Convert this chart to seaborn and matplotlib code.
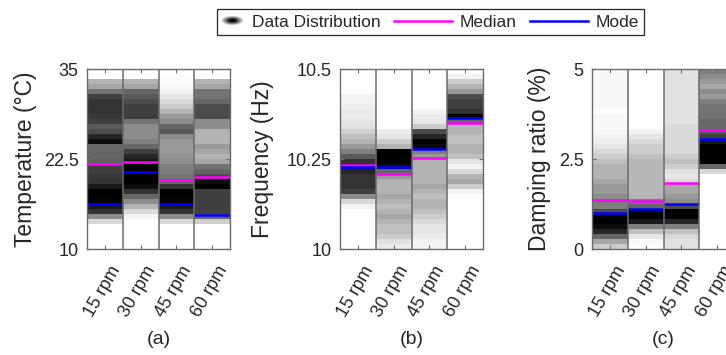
import numpy as np
import pandas as pd
import matplotlib
matplotlib.use('Agg')
import matplotlib.pyplot as plt
import matplotlib.transforms as mtransforms
import seaborn as sns
from matplotlib.patches import Ellipse, Patch
from matplotlib.lines import Line2D
from matplotlib.legend_handler import HandlerBase

#%% Data

speeds = ['15 rpm', '30 rpm', '45 rpm', '60 rpm']

# grey level of each strip, 36 bands from top to bottom (0 = white, 1 = black)
temp_density = [
    [0.0, 0.0, 0.3, 0.35, 0.55, 0.75, 0.8, 0.8, 0.8, 0.78, 0.75, 0.65, 0.7, 0.85, 0.95, 0.6, 0.6, 0.6,
     0.62, 0.75, 0.75, 0.78, 0.8, 0.9, 1.0, 1.0, 1.0, 0.9, 0.8, 0.45, 0.15, 0.0, 0.0, 0.0, 0.0, 0.0],
    [0.0, 0.0, 0.3, 0.35, 0.6, 0.65, 0.7, 0.75, 0.75, 0.75, 0.55, 0.45, 0.45, 0.45, 0.5, 0.6, 0.75, 0.85,
     0.9, 1.0, 1.0, 1.0, 1.0, 0.95, 0.8, 0.6, 0.45, 0.3, 0.15, 0.05, 0.0, 0.0, 0.0, 0.0, 0.0, 0.0],
    [0.0, 0.0, 0.02, 0.03, 0.05, 0.1, 0.15, 0.2, 0.3, 0.4, 0.45, 0.6, 0.65, 0.45, 0.4, 0.4, 0.4, 0.42,
     0.45, 0.5, 0.5, 0.55, 0.6, 0.8, 1.0, 1.0, 1.0, 0.9, 0.8, 0.45, 0.15, 0.0, 0.0, 0.0, 0.0, 0.0],
    [0.0, 0.0, 0.3, 0.35, 0.55, 0.55, 0.6, 0.7, 0.7, 0.7, 0.45, 0.45, 0.3, 0.3, 0.3, 0.4, 0.35, 0.3,
     0.35, 0.55, 0.6, 0.7, 0.95, 1.0, 0.75, 0.75, 0.75, 0.75, 0.75, 0.6, 0.2, 0.0, 0.0, 0.0, 0.0, 0.0],
]
temp_median = [21.8, 22.1, 19.6, 20.0]
temp_mode = [16.2, 20.7, 16.2, 14.7]

freq_density = [
    [0.0, 0.0, 0.0, 0.0, 0.0, 0.05, 0.05, 0.07, 0.08, 0.08, 0.1, 0.12, 0.18, 0.25, 0.3, 0.4, 0.5, 0.65,
     0.8, 0.9, 0.85, 0.8, 0.8, 0.8, 0.75, 0.45, 0.15, 0.05, 0.0, 0.0, 0.0, 0.0, 0.0, 0.0, 0.0, 0.0],
    [0.0, 0.0, 0.0, 0.0, 0.0, 0.0, 0.0, 0.0, 0.0, 0.0, 0.0, 0.0, 0.08, 0.1, 0.2, 0.3, 1.0, 1.0,
     1.0, 0.95, 0.6, 0.4, 0.3, 0.3, 0.3, 0.35, 0.3, 0.25, 0.3, 0.35, 0.3, 0.25, 0.25, 0.2, 0.12, 0.08],
    [0.0, 0.0, 0.0, 0.0, 0.0, 0.0, 0.0, 0.0, 0.05, 0.08, 0.1, 0.2, 0.7, 0.85, 1.0, 0.95, 0.5, 0.4,
     0.3, 0.3, 0.3, 0.3, 0.3, 0.35, 0.3, 0.25, 0.3, 0.3, 0.25, 0.2, 0.15, 0.1, 0.1, 0.08, 0.05, 0.05],
    [0.0, 0.05, 0.2, 0.3, 0.4, 0.7, 0.75, 0.75, 0.8, 1.0, 0.6, 0.3, 0.3, 0.25, 0.25, 0.3, 0.3, 0.25,
     0.1, 0.05, 0.15, 0.3, 0.35, 0.2, 0.05, 0.0, 0.0, 0.0, 0.0, 0.0, 0.0, 0.0, 0.0, 0.0, 0.0, 0.0],
]
freq_median = [10.232, 10.207, 10.252, 10.349]
freq_mode = [10.228, 10.229, 10.277, 10.365]

damp_density = [
    [0.03, 0.03, 0.03, 0.03, 0.03, 0.03, 0.03, 0.03, 0.0, 0.03, 0.03, 0.03, 0.03, 0.05, 0.07, 0.1, 0.15, 0.2,
     0.25, 0.3, 0.3, 0.3, 0.35, 0.4, 0.4, 0.45, 0.5, 0.5, 0.7, 1.0, 1.0, 0.95, 0.85, 0.6, 0.35, 0.2],
    [0.0, 0.0, 0.0, 0.0, 0.0, 0.0, 0.0, 0.0, 0.0, 0.0, 0.0, 0.0, 0.05, 0.1, 0.15, 0.2, 0.2, 0.25,
     0.28, 0.28, 0.28, 0.28, 0.28, 0.28, 0.28, 0.3, 0.5, 0.6, 1.0, 1.0, 0.9, 0.5, 0.25, 0.1, 0.03, 0.0],
    [0.12, 0.12, 0.12, 0.12, 0.12, 0.12, 0.12, 0.12, 0.12, 0.12, 0.12, 0.15, 0.15, 0.15, 0.15, 0.15, 0.15, 0.2,
     0.25, 0.2, 0.12, 0.1, 0.15, 0.35, 0.35, 0.4, 0.45, 0.7, 1.0, 1.0, 0.85, 0.5, 0.25, 0.15, 0.12, 0.12],
    [0.5, 0.45, 0.4, 0.35, 0.45, 0.4, 0.5, 0.55, 0.55, 0.55, 0.6, 0.6, 0.65, 0.75, 0.9, 1.0, 1.0, 1.0,
     1.0, 0.6, 0.15, 0.0, 0.0, 0.0, 0.0, 0.0, 0.0, 0.0, 0.0, 0.0, 0.0, 0.0, 0.0, 0.0, 0.0, 0.0],
]
damp_median = [1.36, 1.33, 1.83, 3.30]
damp_mode = [1.01, 1.12, 1.25, 3.05]

#%% Style

plt.rcParams['font.family'] = ['Liberation Sans', 'DejaVu Sans']
TXT = '0.15'
FRAME = '0.42'
W, H = 726, 355

panels = [
    dict(density=temp_density, median=temp_median, mode=temp_mode, lims=(10, 35),
         ticks=['10', '22.5', '35'], label='Temperature (°C)', tag='(a)', left=87, labx=-0.35),
    dict(density=freq_density, median=freq_median, mode=freq_mode, lims=(10, 10.5),
         ticks=['10', '10.25', '10.5'], label='Frequency (Hz)', tag='(b)', left=340, labx=-0.46),
    dict(density=damp_density, median=damp_median, mode=damp_mode, lims=(0, 5),
         ticks=['0', '2.5', '5'], label='Damping ratio (%)', tag='(c)', left=592, labx=-0.29),
]


class HandlerBlob(HandlerBase):
    def create_artists(self, legend, orig_handle, xdescent, ydescent, width, height, fontsize, trans):
        cx = 0.45 * width - xdescent
        cy = 0.5 * height - ydescent
        arts = []
        for k, shade in enumerate(['0.8', '0.6', '0.4', '0.2', '0.0']):
            f = 1 - k * 0.17
            arts.append(Ellipse((cx, cy), width * 0.95 * f, height * 0.75 * f,
                                facecolor=shade, edgecolor='none', transform=trans))
        return arts


class HandlerLongLine(HandlerBase):
    def __init__(self, extra):
        super().__init__()
        self.extra = extra

    def create_artists(self, legend, orig_handle, xdescent, ydescent, width, height, fontsize, trans):
        y = 0.5 * height - ydescent
        ln = Line2D([-xdescent - self.extra, width - xdescent], [y, y],
                    color=orig_handle.get_color(), lw=orig_handle.get_linewidth(), transform=trans)
        return [ln]


#%% Figure

fig = plt.figure(figsize=(W / 100, H / 100), dpi=100)
shift = mtransforms.ScaledTranslation(4 / 100, 0, fig.dpi_scale_trans)

for p in panels:
    ax = fig.add_axes([p['left'] / W, (H - 249) / H, 143 / W, 180 / H])
    df = pd.DataFrame(dict(zip(speeds, p['density'])))
    sns.heatmap(df, ax=ax, cmap='gray_r', vmin=0, vmax=1, cbar=False,
                xticklabels=speeds, yticklabels=False)
    nrow = len(df)
    lo, hi = p['lims']

    def to_y(v):
        return (hi - v) / (hi - lo) * nrow

    for j in range(len(speeds)):
        ax.hlines(to_y(p['median'][j]), j, j + 1, color='#ff00ff', lw=1.8)
        ax.hlines(to_y(p['mode'][j]), j, j + 1, color='#0000ff', lw=1.8)
    for j in range(1, len(speeds)):
        ax.axvline(j, color=FRAME, lw=1.1)

    ax.set_ylim(nrow, 0)
    ax.set_xlim(0, len(speeds))
    ax.set_yticks([to_y(lo), to_y((lo + hi) / 2), to_y(hi)])
    ax.set_yticklabels(p['ticks'])
    ax.set_xticks(np.arange(len(speeds)) + 0.5)
    ax.set_xticklabels(speeds, rotation=60, ha='right', va='top', rotation_mode='anchor',
                       fontsize=13)
    for s in ax.spines.values():
        s.set_visible(True)
        s.set_color(FRAME)
        s.set_linewidth(1.0)
    ax.tick_params(direction='in', length=3, top=True, right=True, color=FRAME,
                   labelcolor=TXT, labelsize=13, pad=6)
    ax.tick_params(axis='x', labelsize=13, pad=10)
    for lab in ax.get_xticklabels():
        lab.set_transform(lab.get_transform() + shift)
    ax.set_xlabel('')
    ax.set_ylabel(p['label'], fontsize=16.5, color=TXT)
    ax.yaxis.set_label_coords(p['labx'], 0.5)
    fig.text((p['left'] + 71.5) / W, 1 - 340 / H, p['tag'], ha='center', va='center',
             fontsize=14, color=TXT)

blob = Patch(facecolor='0.3')
med_h = Line2D([], [], color='#ff00ff', lw=1.8)
mode_h = Line2D([], [], color='#0000ff', lw=1.8)
leg = fig.legend([blob, med_h, mode_h], ['Data Distribution', 'Median', 'Mode'],
                 handler_map={blob: HandlerBlob(), med_h: HandlerLongLine(26), mode_h: HandlerLongLine(26)},
                 ncol=3, loc='center', bbox_to_anchor=(0.593, 0.938), bbox_transform=fig.transFigure,
                 fontsize=12.5, handlelength=1.3, handletextpad=0.4, columnspacing=2.85,
                 borderpad=0.3, fancybox=False, framealpha=1, edgecolor=TXT)
leg.get_frame().set_linewidth(0.9)
for t in leg.get_texts():
    t.set_color(TXT)

fig.savefig('out.png', dpi=100)
